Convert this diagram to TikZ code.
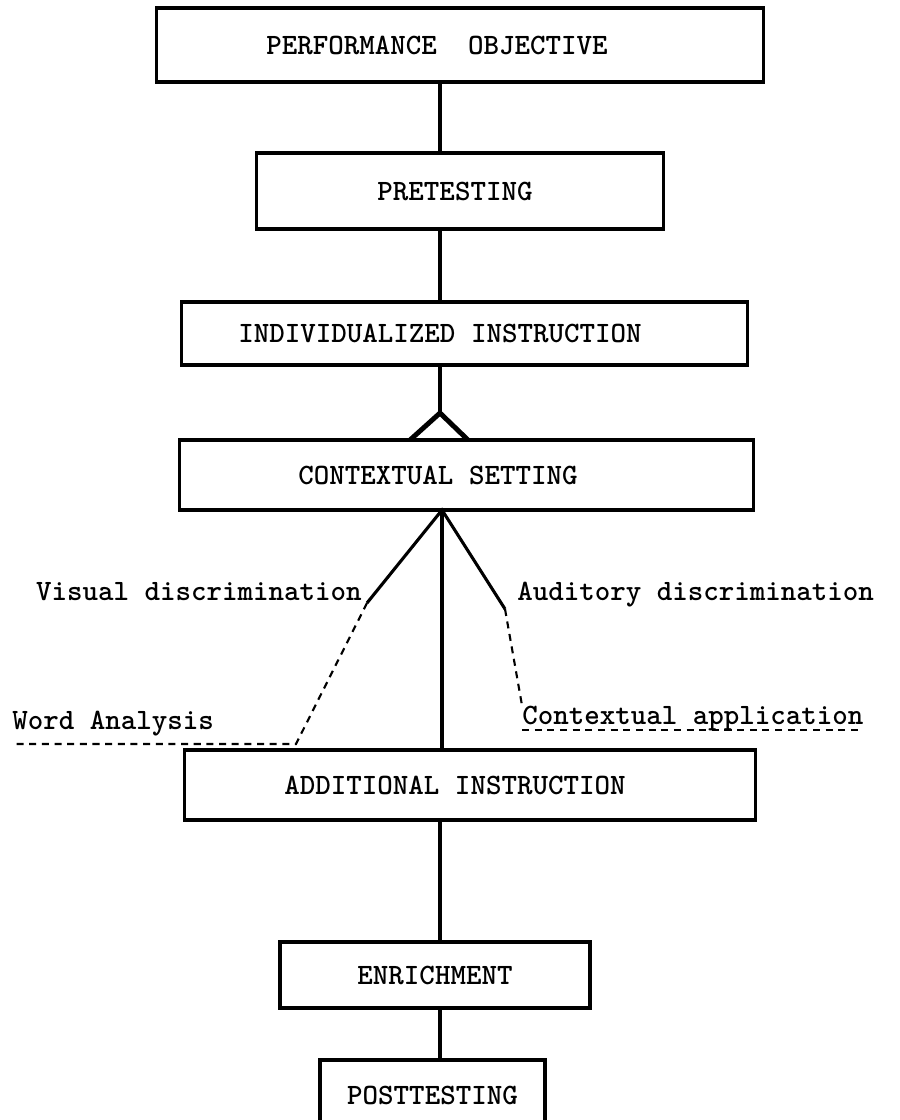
\documentclass[tikz,border=0pt]{standalone}
\usepackage{fontspec}
\usetikzlibrary{positioning}
\newfontfamily\typefont{lmmonolt10-bold.otf}
\newcommand{\typed}{\typefont\fontsize{21}{25}\selectfont}

\begin{document}
\begin{tikzpicture}[x=0.025cm,y=-0.025cm,
  box/.style={draw,line width=2.2pt,inner sep=0pt,font=\typed},
  tag/.style={inner sep=0pt,font=\typed},
  link/.style={line width=2.2pt},
  fork/.style={line width=3.5pt},
  dashlink/.style={line width=1.5pt,dash pattern=on 5pt off 4pt}]
\useasboundingbox (0,0) rectangle (900,1120);

% Boxes sit on their frames; a trailing gap moves the text to the left.
\node[box,minimum width=15.15cm,minimum height=1.85cm] (perf) at (460,45) {PERFORMANCE\ \ OBJECTIVE\hspace*{1.15cm}};
\node[box,minimum width=10.15cm,minimum height=1.9cm] (pretest) at (460,191) {PRETESTING\hspace*{0.25cm}};
\node[box,minimum width=14.125cm,minimum height=1.575cm] (indiv) at (464.5,333.5) {INDIVIDUALIZED INSTRUCTION\hspace*{1.225cm}};
\node[box,minimum width=14.325cm,minimum height=1.75cm] (context) at (466.5,475) {CONTEXTUAL SETTING\hspace*{1.425cm}};
\node[box,minimum width=14.25cm,minimum height=1.75cm] (addit) at (470,785) {ADDITIONAL INSTRUCTION\hspace*{0.75cm}};
\node[box,minimum width=7.75cm,minimum height=1.65cm] (enrich) at (435,975) {ENRICHMENT};
\node[box,minimum width=5.625cm,minimum height=1.75cm] (post) at (432.5,1095) {POSTTESTING};

% Spine of the chart.
\coordinate (spine) at (440,0);
\draw[link] (perf.south -| spine) -- (pretest.north -| spine);
\draw[link] (pretest.south -| spine) -- (indiv.north -| spine);

% Forked foot on top of the contextual setting.
\coordinate (topFork) at (440,413);
\coordinate (forkL) at (410,440);
\coordinate (forkR) at (468,440);
\draw[link] (indiv.south -| spine) -- (topFork);
\draw[fork,line join=round] (forkL) -- (topFork) -- (forkR);

% Branches below the contextual setting.
\coordinate (lowFork) at (442,510);
\coordinate (visualEnd) at (367,603);
\coordinate (auditEnd) at (505,609);
\draw[link] (lowFork) -- (lowFork |- addit.north);
\draw[link] (visualEnd) -- (lowFork) -- (auditEnd);

\node[tag,anchor=east] (visual) at (362,592) {Visual discrimination};
\node[tag,anchor=west] (audit) at (517,595) {Auditory discrimination};
\node[tag,anchor=west] (word) at (12,724) {Word Analysis};
\node[tag,anchor=west] (applic) at (522,718) {Contextual application};

\coordinate (wordEnd) at (296,744);
\draw[dashlink] (visualEnd) -- (wordEnd) -- (word.west |- wordEnd);
\draw[dashlink] (auditEnd) -- (applic.north west);
\draw[dashlink] ([yshift=-4pt]applic.base west) -- ([yshift=-4pt]applic.base east);

\draw[link] (addit.south -| spine) -- (enrich.north -| spine);
\draw[link] (enrich.south -| spine) -- (post.north -| spine);
\end{tikzpicture}
\end{document}
